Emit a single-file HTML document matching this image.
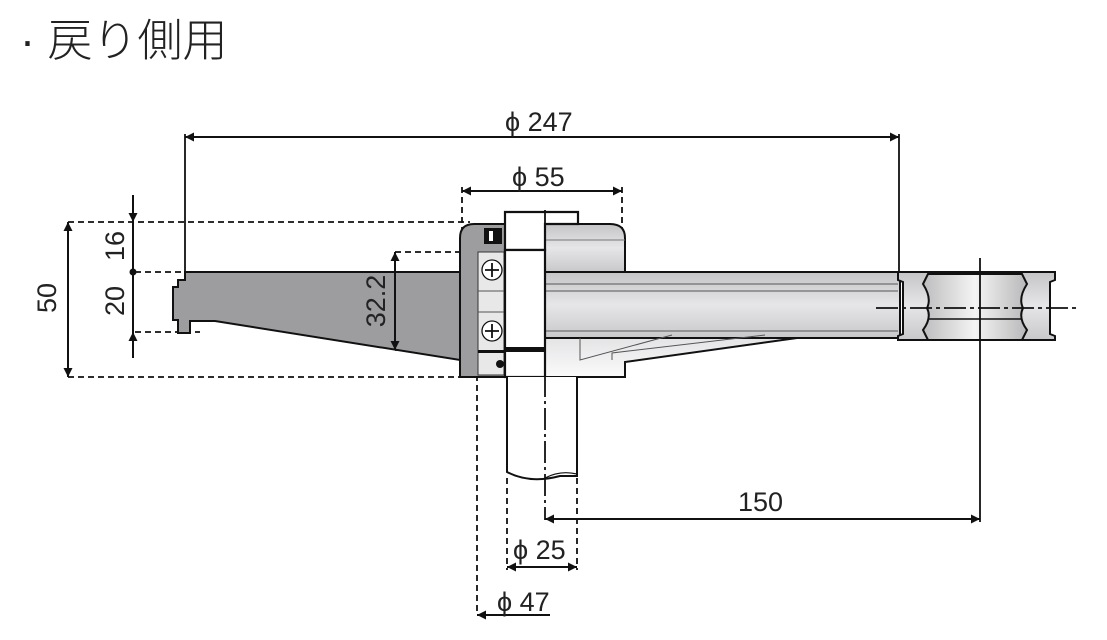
<!DOCTYPE html>
<html><head><meta charset="utf-8"><style>
html,body{margin:0;padding:0;background:#fff;width:1107px;height:640px;overflow:hidden}
svg{display:block}
text{font-family:"Liberation Sans","DejaVu Sans",sans-serif;fill:#222}
</style></head><body>
<svg width="1107" height="640" viewBox="0 0 1107 640" xmlns="http://www.w3.org/2000/svg">
<defs>
<marker id="a" viewBox="0 0 10 10" refX="10" refY="5" markerWidth="16" markerHeight="9" markerUnits="userSpaceOnUse" orient="auto-start-reverse"><path d="M0,0L10,5L0,10z" fill="#111"/></marker>
<linearGradient id="g1" x1="0" y1="0" x2="0" y2="1"><stop offset="0" stop-color="#c4c4c6"/><stop offset="0.5" stop-color="#e6e6e8"/><stop offset="1" stop-color="#c8c8ca"/></linearGradient>
<linearGradient id="g2" x1="0" y1="0" x2="1" y2="0"><stop offset="0" stop-color="#bdbdbf"/><stop offset="0.5" stop-color="#f4f4f4"/><stop offset="1" stop-color="#b8b8ba"/></linearGradient>
<linearGradient id="g3" x1="0" y1="0" x2="0" y2="1"><stop offset="0" stop-color="#e4e4e6"/><stop offset="1" stop-color="#fafafa"/></linearGradient>
</defs>
<text x="20" y="56" font-size="45" style="font-family:'Liberation Sans','Noto Sans CJK JP',sans-serif;font-weight:300">· 戻り側用</text>

<g stroke="#111" stroke-width="2" fill="none">
<g stroke-dasharray="6,4" stroke-width="1.8">
<line x1="68" y1="222" x2="470" y2="222"/>
<line x1="68" y1="377" x2="470" y2="377"/>
<line x1="135" y1="272" x2="185" y2="272"/>
<line x1="135" y1="332" x2="200" y2="332"/>
<line x1="395" y1="252" x2="482" y2="252"/>
<line x1="395" y1="350" x2="482" y2="350"/>
<line x1="462" y1="187" x2="462" y2="230"/>
<line x1="622" y1="187" x2="622" y2="232"/>
<line x1="477" y1="375" x2="477" y2="612"/>
<line x1="507" y1="478" x2="507" y2="570"/>
<line x1="577" y1="478" x2="577" y2="570"/>
</g>
</g>

<path d="M185,272 L460,272 L460,360 L215,321 L190,321 L190,333 L178,333 L178,320 L173,320 L173,287 L178,287 L178,280 L185,280 Z" fill="#9d9d9f" stroke="#111" stroke-width="2"/>
<path d="M474,224 L505,224 L505,377 L460,377 L460,238 Q460,224 474,224Z" fill="#9d9d9f" stroke="#111" stroke-width="2"/>
<rect x="478" y="252" width="26" height="123" fill="#e8e8e8" stroke="#333" stroke-width="1"/>
<line x1="478" y1="291" x2="504" y2="291" stroke="#555"/>
<line x1="478" y1="312" x2="504" y2="312" stroke="#555"/>
<circle cx="492" cy="270" r="10" fill="#fff" stroke="#111" stroke-width="1.3"/>
<path d="M485,270h14M492,263v14" stroke="#111" stroke-width="1.8"/>
<circle cx="492" cy="331" r="10" fill="#fff" stroke="#111" stroke-width="1.3"/>
<path d="M485,331h14M492,324v14" stroke="#111" stroke-width="1.8"/>
<rect x="484" y="228" width="18" height="16" fill="#111"/>
<rect x="489" y="231" width="4" height="10" fill="#fff"/>
<circle cx="500" cy="364" r="4" fill="#111"/>
<rect x="478" y="350" width="26" height="3" fill="#111"/>

<path d="M545,224 L610,224 Q625,224 625,238 L625,272 L545,272Z" fill="url(#g1)" stroke="#111" stroke-width="2"/>
<line x1="545" y1="240" x2="625" y2="240" stroke="#777"/>
<rect x="545" y="272" width="355" height="66" fill="url(#g1)" stroke="#111" stroke-width="2"/>
<line x1="545" y1="284" x2="898" y2="284" stroke="#555" stroke-width="1"/>
<line x1="545" y1="291" x2="898" y2="291" stroke="#555" stroke-width="1"/>
<line x1="545" y1="331" x2="898" y2="331" stroke="#555" stroke-width="1"/>
<path d="M545,338 L797,338 L625,362 L625,377 L545,377Z" fill="url(#g3)" stroke="#111" stroke-width="2"/>
<path d="M580,338 V360 L672,335" stroke="#555" fill="none" stroke-width="1"/>
<path d="M612,360 V353 L765,335" stroke="#555" fill="none" stroke-width="1"/>
<path d="M505,212 L578,212 L578,224 L545,224 L545,250 L505,250Z" fill="#fff" stroke="#111" stroke-width="2.2"/>
<rect x="505" y="250" width="40" height="127" fill="#fff" stroke="#111" stroke-width="2.2"/>
<rect x="505" y="347" width="40" height="5" fill="#111"/>
<path d="M507,377 V472 Q530,484 560,476 L577,476 V377" fill="#fff" stroke="#111" stroke-width="2"/>
<path d="M545,478 Q560,470 577,474" fill="none" stroke="#111" stroke-width="1.2"/>

<path d="M898,272 L1055,272 L1055,280 L1050,282 L1050,334 L1055,336 L1055,340 L898,340 L898,336 L903,334 L903,282 L898,280Z" fill="url(#g1)" stroke="#111" stroke-width="2"/>
<path d="M928,274 L1022,274 L1027,284 Q1018,298 1023,308 Q1018,318 1027,330 L1022,340 L928,340 L923,330 Q932,318 927,308 Q932,298 923,284Z" fill="url(#g2)" stroke="#111" stroke-width="2"/>
<line x1="928" y1="319" x2="1022" y2="319" stroke="#111" stroke-width="1.6"/>

<g stroke="#111" stroke-width="1.8">
<line x1="545" y1="210" x2="545" y2="520" stroke-dasharray="22,4,3,4"/>
<line x1="980" y1="258" x2="980" y2="522"/>
<line x1="876" y1="308" x2="1080" y2="308" stroke-dasharray="22,4,4,4"/>
<line x1="185" y1="134" x2="185" y2="272"/>
<line x1="899" y1="134" x2="899" y2="272"/>
</g>

<g stroke="#111" stroke-width="2" fill="none">
<line x1="185" y1="137" x2="899" y2="137" marker-start="url(#a)" marker-end="url(#a)"/>
<line x1="462" y1="191" x2="622" y2="191" marker-start="url(#a)" marker-end="url(#a)"/>
<line x1="68" y1="222" x2="68" y2="377" marker-start="url(#a)" marker-end="url(#a)"/>
<line x1="133" y1="195" x2="133" y2="222" marker-end="url(#a)"/>
<line x1="133" y1="222" x2="133" y2="332"/>
<line x1="133" y1="358" x2="133" y2="332" marker-end="url(#a)"/>
<line x1="395" y1="252" x2="395" y2="350" marker-start="url(#a)" marker-end="url(#a)"/>
<line x1="545" y1="519" x2="980" y2="519" marker-start="url(#a)" marker-end="url(#a)"/>
<line x1="507" y1="567" x2="577" y2="567" marker-start="url(#a)" marker-end="url(#a)"/>
<line x1="550" y1="615" x2="477" y2="615" marker-end="url(#a)"/>
</g>
<circle cx="133" cy="272" r="3.5" fill="#111"/>

<g font-size="27">
<text x="505" y="131">ϕ 247</text>
<text x="512" y="186">ϕ 55</text>
<text x="738" y="511">150</text>
<text x="513" y="559">ϕ 25</text>
<text x="497" y="611">ϕ 47</text>
<text transform="translate(56,298) rotate(-90)" text-anchor="middle">50</text>
<text transform="translate(124,246) rotate(-90)" text-anchor="middle">16</text>
<text transform="translate(124,301) rotate(-90)" text-anchor="middle">20</text>
<text transform="translate(385,301) rotate(-90)" text-anchor="middle">32.2</text>
</g>
</svg>
</body></html>
